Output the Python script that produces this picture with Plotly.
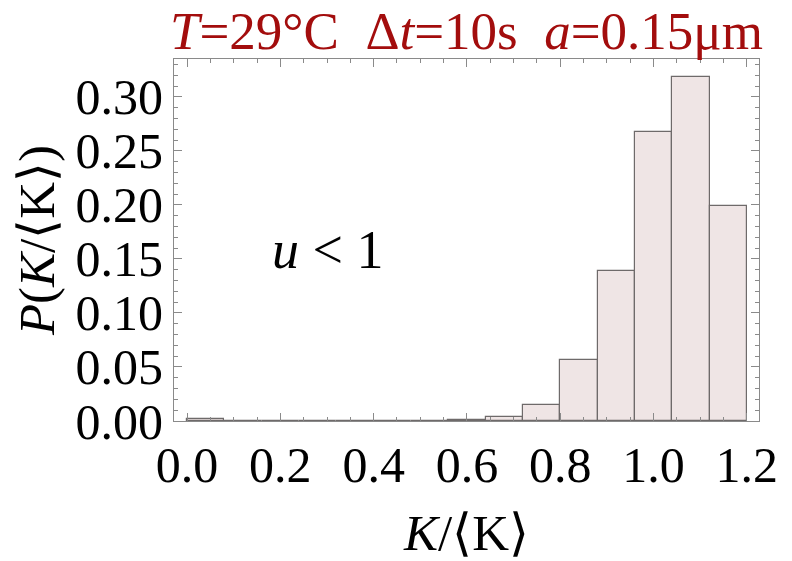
import plotly.graph_objects as go

bin_edges = [0.00, 0.08, 0.16, 0.24, 0.32, 0.40, 0.48, 0.56, 0.64, 0.72, 0.80, 0.88, 0.96, 1.04, 1.12, 1.20]
probabilities = [0.0015, 0.0, 0.0, 0.0, 0.0, 0.0003, 0.0003, 0.0008, 0.0037, 0.0145, 0.056, 0.139, 0.267, 0.318, 0.199]
x_ticks = [0.0, 0.2, 0.4, 0.6, 0.8, 1.0, 1.2]
y_ticks = [0.00, 0.05, 0.10, 0.15, 0.20, 0.25, 0.30]

centers = [(a + b) / 2 for a, b in zip(bin_edges[:-1], bin_edges[1:])]
widths = [b - a for a, b in zip(bin_edges[:-1], bin_edges[1:])]

FONT = "Liberation Serif"
axis_col = "#8a8a8a"

fig = go.Figure()
fig.add_trace(go.Bar(
    x=centers, y=probabilities, width=widths,
    marker=dict(color="#efe5e5", line=dict(color="#6e6a6a", width=1.2)),
    showlegend=False,
))

fig.update_layout(
    width=792, height=561,
    margin=dict(l=174, r=33, t=59, b=140, autoexpand=False),
    paper_bgcolor="white", plot_bgcolor="white",
    font=dict(family=FONT, color="black"),
    bargap=0,
    title=dict(
        text="<i>T</i>=29°C  Δ<i>t</i>=10s  <i>a</i>=0.15μm",
        x=0.5, xref="paper", xanchor="center",
        y=0.945, yref="container", yanchor="middle",
        font=dict(family=FONT, size=53, color="#a30d0d"),
    ),
    xaxis=dict(
        range=[-0.028, 1.226], automargin=False,
        tickvals=x_ticks, ticktext=[f"{v:.1f}" for v in x_ticks],
        ticks="inside", ticklen=8, tickcolor=axis_col, tickwidth=1,
        minor=dict(ticks="inside", ticklen=4, dtick=0.05, tick0=0, tickcolor=axis_col),
        showline=True, linecolor=axis_col, linewidth=1, mirror="ticks",
        showgrid=False, zeroline=False,
        tickfont=dict(family=FONT, size=50),
        title=dict(text="<i>K</i>/⟨K⟩", font=dict(family=FONT, size=51), standoff=26),
    ),
    yaxis=dict(
        range=[0, 0.335], automargin=False,
        tickvals=y_ticks, ticktext=[f"{v:.2f}" for v in y_ticks],
        ticks="inside", ticklen=8, tickcolor=axis_col, tickwidth=1,
        minor=dict(ticks="inside", ticklen=4, dtick=0.01, tick0=0, tickcolor=axis_col),
        showline=True, linecolor=axis_col, linewidth=1, mirror="ticks",
        showgrid=False, zeroline=False,
        tickfont=dict(family=FONT, size=50),
        title=dict(text="<i>P</i>(<i>K</i>/⟨K⟩)", font=dict(family=FONT, size=51), standoff=4),
    ),
)

fig.add_annotation(
    x=0.30, y=0.158, xref="x", yref="y",
    text="<i>u</i> < 1", showarrow=False,
    font=dict(family=FONT, size=54, color="black"),
)

fig.write_html("out.html")
